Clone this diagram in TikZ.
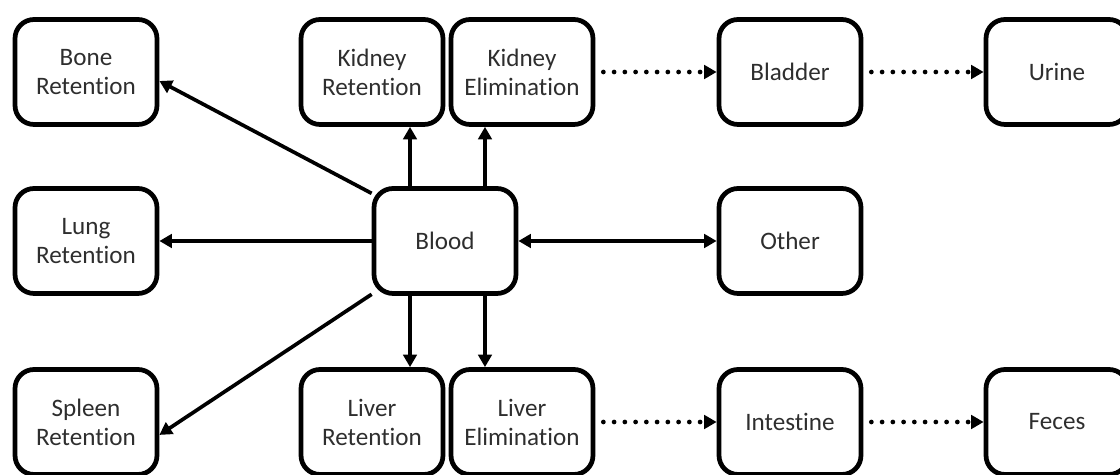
\documentclass[tikz,border=0pt]{standalone}
\usepackage{fontspec}
\setmainfont[RawFeature=-liga]{Carlito}
\usetikzlibrary{arrows.meta,positioning}

\begin{document}
\begin{tikzpicture}[x=0.02cm,y=-0.02cm,>={Triangle[length=0.25cm,width=0.27cm]},
  box/.style={draw,line width=2.7pt,rounded corners=0.38cm,minimum width=2.84cm,
    minimum height=2.1cm,align=center,text=black!82,
    font=\fontsize{14.3}{16.5}\selectfont},
  flow/.style={->,line width=2.1pt},
  dotflow/.style={->,line width=2.7pt,line cap=round,dash pattern=on 0pt off 0.215cm,
    shorten <=0.16cm}]
\useasboundingbox (0,0) rectangle (1120,475);
% top row
\node[box] (bone)    at (86,72)   {Bone\\Retention};
\node[box] (kret)    at (372,72)  {Kidney\\Retention};
\node[box] (kelim)   at (522,72)  {Kidney\\Elimination};
\node[box] (bladder) at (790,72)  {Bladder};
\node[box] (urine)   at (1057,72) {Urine};
% middle row
\node[box] (lung)    at (86,241)  {Lung\\Retention};
\node[box] (blood)   at (445,241) {Blood};
\node[box] (other)   at (790,241) {Other};
% bottom row
\node[box] (spleen)  at (86,422)  {Spleen\\Retention};
\node[box] (lret)    at (372,422) {Liver\\Retention};
\node[box] (lelim)   at (522,422) {Liver\\Elimination};
\node[box] (intest)  at (790,422) {Intestine};
\node[box] (feces)   at (1057,422) {Feces};

\draw[flow] (blood.147) -- (bone.-7);
\draw[flow] (blood.west) -- (lung.east);
\draw[flow] (blood.216) -- (spleen.-10);
\draw[flow,<->] (blood.east) -- (other.west);
\foreach \dx/\up/\down in {-0.7cm/kret/lret,0.8cm/kelim/lelim}{
  \draw[flow] ([xshift=\dx]blood.north) -- ([xshift=\dx]blood.north |- \up.south);
  \draw[flow] ([xshift=\dx]blood.south) -- ([xshift=\dx]blood.south |- \down.north);
}
\draw[dotflow] (kelim.east) -- (bladder.west);
\draw[dotflow] (bladder.east) -- (urine.west);
\draw[dotflow] (lelim.east) -- (intest.west);
\draw[dotflow] (intest.east) -- (feces.west);
\end{tikzpicture}
\end{document}
